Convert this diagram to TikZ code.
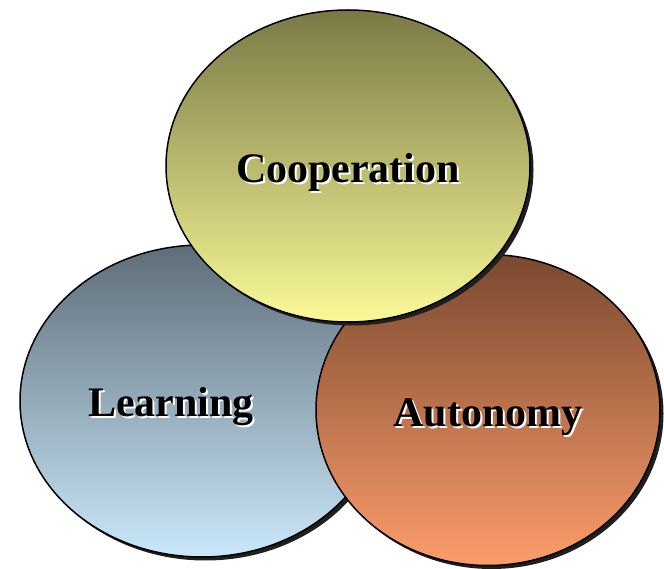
\documentclass[tikz,border=0pt]{standalone}
\usepackage{fontspec}
\setmainfont{Liberation Serif}
\usetikzlibrary{shapes.geometric,shadows}

\definecolor{coopTop}{HTML}{7A7946}
\definecolor{coopBot}{HTML}{FAFA98}
\definecolor{learnTop}{HTML}{5E6D78}
\definecolor{learnBot}{HTML}{CAE8FA}
\definecolor{autoTop}{HTML}{7A4930}
\definecolor{autoBot}{HTML}{FC9C6A}

\tikzset{
  ring/.style={ellipse, draw=black, line width=1.5pt, inner sep=0pt,
    drop shadow={shadow xshift=3.5pt, shadow yshift=-3.5pt, fill=black!88, opacity=1}},
  lbl/.style={font=\fontsize{42}{50}\selectfont\bfseries, inner sep=0pt},
  lblshade/.style={lbl, text=white, xshift=2pt, yshift=-2pt},
}

\begin{document}
\begin{tikzpicture}[x=1pt,y=-1pt]
\useasboundingbox (0,0) rectangle (664,569);

% the three rings, bottom one first
\node[ring, minimum width=364pt, minimum height=312pt,
  top color=learnTop, bottom color=learnBot] (learn) at (202,401) {};
\node[ring, minimum width=344pt, minimum height=311pt,
  top color=autoTop, bottom color=autoBot] (auto) at (488,410) {};
\node[ring, minimum width=364pt, minimum height=312pt,
  top color=coopTop, bottom color=coopBot] (coop) at (348,166) {};

% labels with a white shade behind
\node[lblshade] (coop-sh) at (348,172) {Cooperation};
\node[lbl] (coop-txt) at (348,172) {Cooperation};
\node[lblshade] (learn-sh) at (171,407) {Learning};
\node[lbl] (learn-txt) at (171,407) {Learning};
\node[lblshade] (auto-sh) at (488,417) {Autonomy};
\node[lbl] (auto-txt) at (488,417) {Autonomy};
\end{tikzpicture}
\end{document}
